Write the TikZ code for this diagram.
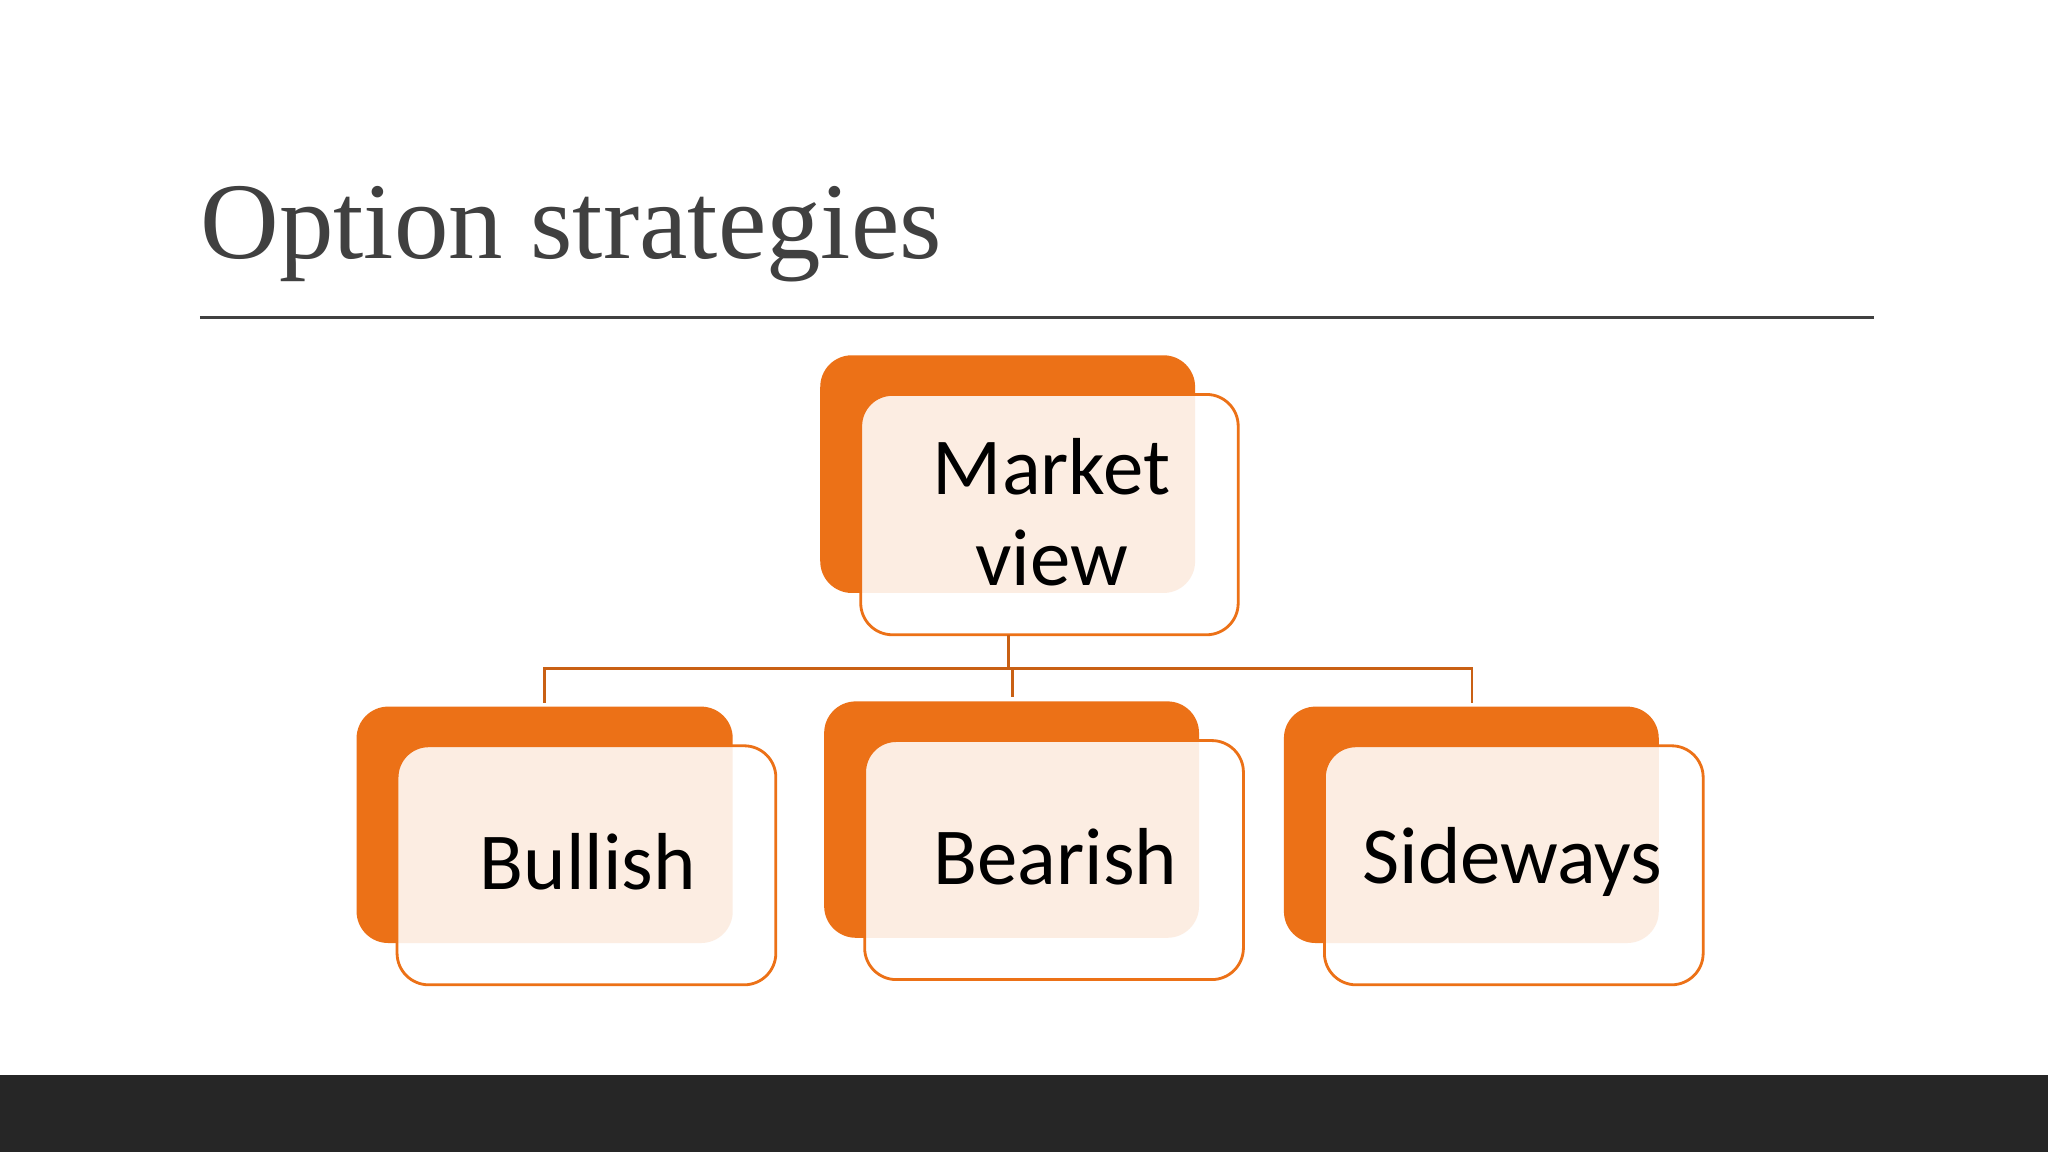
\documentclass[tikz,border=0pt]{standalone}
\usepackage{fontspec}
\setmainfont{Liberation Serif}
\newfontfamily\boxfont{Carlito}
\definecolor{org}{HTML}{EC7117}
\definecolor{band}{HTML}{262626}
\definecolor{ttl}{HTML}{404040}
\begin{document}
\begin{tikzpicture}[x=0.01306cm,y=-0.01306cm,
  back/.style={fill=org,rounded corners=9pt},
  front/.style={draw=org,line width=0.8pt,fill=white,fill opacity=0.88,rounded corners=9pt},
  lbl/.style={font=\boxfont\fontsize{23}{28}\selectfont,align=center,text=black},
  conn/.style={draw=org!85!black,line width=0.8pt}]
\useasboundingbox (0,0) rectangle (1568,882);
\fill[white] (0,0) rectangle (1568,882);
\fill[band] (0,823) rectangle (1568,882);
\node[anchor=base west,text=ttl,font=\fontsize{31}{36}\selectfont,inner sep=0] (title) at (153,198) {Option strategies};
\draw[ttl,line width=0.8pt] (153,243) -- (1435,243);
% boxes
\fill[back] (628,272) rectangle (915,454);
\draw[front] (659,302) rectangle (948,486);
\node[lbl] (mv) at (805,392) {Market\\[-2pt]view};
\fill[back] (273,541) rectangle (561,722);
\draw[front] (304,571) rectangle (594,754);
\node[lbl] (bu) at (450,660) {Bullish};
\fill[back] (631,537) rectangle (918,718);
\draw[front] (662,567) rectangle (952,750);
\node[lbl] (be) at (808,656) {Bearish};
\fill[back] (983,541) rectangle (1270,722);
\draw[front] (1014,571) rectangle (1304,754);
\node[lbl] (si) at (1158,660) {Sideways};
% connectors
\coordinate (m0) at (772,486);
\coordinate (m1) at (772,512);
\coordinate (b1) at (417,538);
\coordinate (e1) at (775,534);
\coordinate (s1) at (1127,538);
\draw[conn] (m0) -- (m1);
\draw[conn] (b1) |- (m1) -| (s1);
\draw[conn] (m1) -| (e1);
\end{tikzpicture}
\end{document}
